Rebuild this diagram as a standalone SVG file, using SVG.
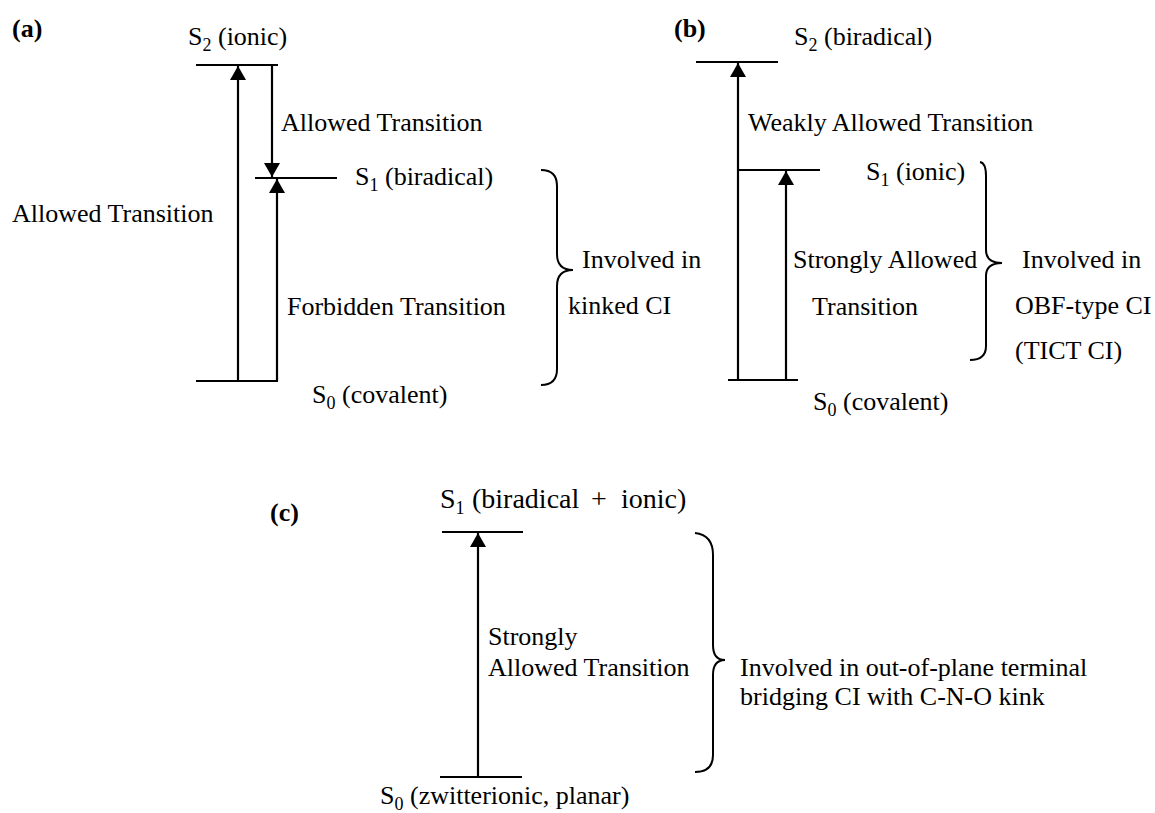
<svg xmlns="http://www.w3.org/2000/svg" width="1155" height="813" viewBox="0 0 1155 813">
<defs>
<marker id="ah" viewBox="0 0 14 16" markerWidth="14" markerHeight="16" refX="14" refY="8" orient="auto" markerUnits="userSpaceOnUse">
<path d="M0,0 L14,8 L0,16 z" fill="#000"/>
</marker>
<style>
text{font-family:"Liberation Serif","Times New Roman",serif;font-size:26px;fill:#000}
.b{font-weight:bold;font-size:26px}
.sub{font-size:18px}
.big{font-size:28px}
.lv{stroke:#000;stroke-width:2;fill:none}
.ar{stroke:#000;stroke-width:2.2;fill:none;marker-end:url(#ah)}
.br{stroke:#000;stroke-width:2;fill:none}
</style>
</defs>
<rect width="1155" height="813" fill="#fff"/>

<!-- Panel a -->
<g id="panel-a">
<text class="b" x="12" y="37">(a)</text>
<g id="a-S2"><line class="lv" x1="196" y1="65" x2="278" y2="65"/><text x="188" y="45">S<tspan class="sub" dy="6">2</tspan><tspan dy="-6"> (ionic)</tspan></text></g>
<g id="a-S1"><line class="lv" x1="255" y1="178" x2="337" y2="178"/><text x="355" y="185">S<tspan class="sub" dy="6">1</tspan><tspan dy="-6"> (biradical)</tspan></text></g>
<g id="a-S0"><line class="lv" x1="196" y1="381" x2="278" y2="381"/><text x="312" y="403">S<tspan class="sub" dy="6">0</tspan><tspan dy="-6"> (covalent)</tspan></text></g>
<g id="a-labels">
<text x="281" y="131">Allowed Transition</text>
<text x="12" y="222">Allowed Transition</text>
<text x="287" y="315">Forbidden Transition</text>
<text x="582" y="268">Involved in</text>
<text x="568" y="314">kinked CI</text>
</g>
</g>

<!-- Panel b -->
<g id="panel-b">
<text class="b" x="674" y="37">(b)</text>
<g id="b-S2"><line class="lv" x1="696" y1="62" x2="778" y2="62"/><text x="794" y="45">S<tspan class="sub" dy="6">2</tspan><tspan dy="-6"> (biradical)</tspan></text></g>
<g id="b-S1"><line class="lv" x1="738" y1="170" x2="820" y2="170"/><text x="866" y="180">S<tspan class="sub" dy="6">1</tspan><tspan dy="-6"> (ionic)</tspan></text></g>
<g id="b-S0"><line class="lv" x1="728" y1="380" x2="798" y2="380"/><text x="813" y="410">S<tspan class="sub" dy="6">0</tspan><tspan dy="-6"> (covalent)</tspan></text></g>
<g id="b-labels">
<text x="748" y="131">Weakly Allowed Transition</text>
<text x="793" y="268">Strongly Allowed</text>
<text x="812" y="315">Transition</text>
<text x="1022" y="268">Involved in</text>
<text x="1015" y="314">OBF-type CI</text>
<text x="1015" y="359">(TICT CI)</text>
</g>
</g>

<!-- Panel c -->
<g id="panel-c">
<text class="b" x="270" y="521">(c)</text>
<g id="c-S1"><line class="lv" x1="442" y1="532" x2="523" y2="532"/><text class="big" x="440" y="508">S<tspan class="sub" dy="6">1</tspan><tspan x="472" dy="-6">(biradical</tspan><tspan x="591">+</tspan><tspan x="621">ionic)</tspan></text></g>
<g id="c-S0"><line class="lv" x1="440" y1="777" x2="522" y2="777"/><text x="380" y="804">S<tspan class="sub" dy="6">0</tspan><tspan dy="-6"> (zwitterionic, planar)</tspan></text></g>
<g id="c-labels">
<text x="488" y="645">Strongly</text>
<text x="488" y="676">Allowed Transition</text>
<text x="740" y="676">Involved in out-of-plane terminal</text>
<text x="740" y="705">bridging CI with C-N-O kink</text>
</g>
</g>

<!-- Connectors -->
<g id="connectors">
<line class="ar" x1="238" y1="381" x2="238" y2="66"/>
<line class="ar" x1="272" y1="66" x2="272" y2="177"/>
<line class="ar" x1="277" y1="381" x2="277" y2="179"/>
<line class="ar" x1="738" y1="380" x2="738" y2="63"/>
<line class="ar" x1="786" y1="380" x2="786" y2="171"/>
<line class="ar" x1="478" y1="777" x2="478" y2="533"/>
<path class="br" d="M541,170 Q557,170 557,186 L557,254 Q557,270 573,270 Q557,270 557,286 L557,369 Q557,385 541,385"/>
<path class="br" d="M980,162 Q986,163 986,176 L986,250 Q986,263 1002,263 Q986,263 986,276 L986,346 Q986,360 970,360"/>
<path class="br" d="M695,533 Q713,535 713,555 L713,645 Q713,660 725,660 Q713,660 713,675 L713,755 Q713,772 695,772"/>
</g>
</svg>
